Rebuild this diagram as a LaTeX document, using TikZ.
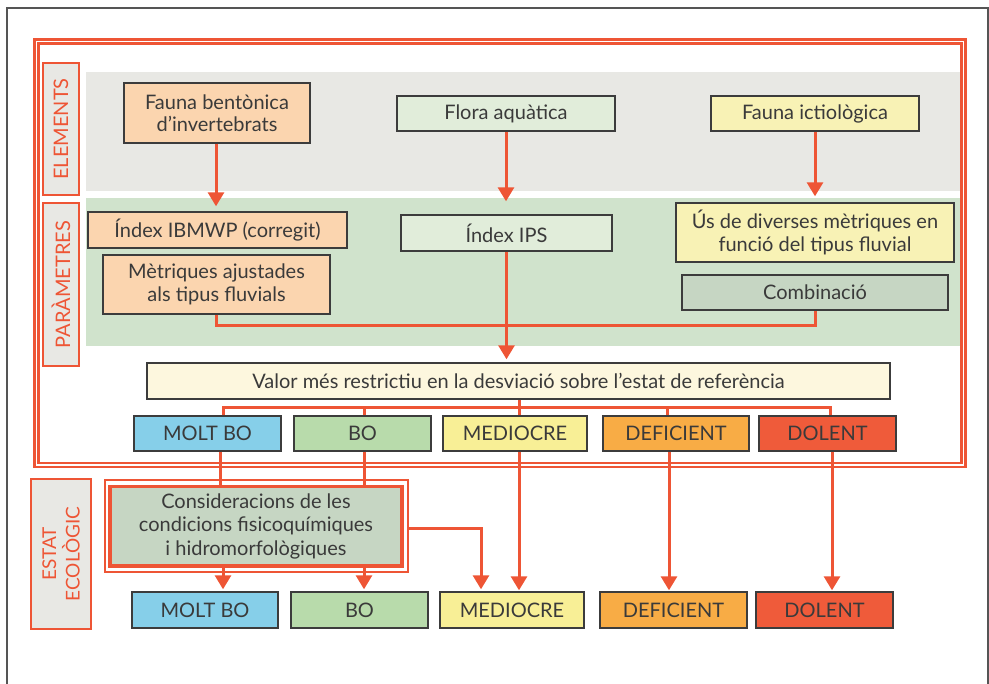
\documentclass[tikz,border=0pt]{standalone}
\usepackage{fontspec}
\setmainfont{Lato}
\usetikzlibrary{arrows.meta}
\definecolor{redc}{HTML}{EE5535}
\definecolor{graybg}{HTML}{E8E8E4}
\definecolor{greenbg}{HTML}{D0E3CC}
\definecolor{boxline}{HTML}{3C3C3C}
\definecolor{txt}{HTML}{3A3A3A}
\definecolor{cfauna}{HTML}{FBD5AF}
\definecolor{cflora}{HTML}{E1EDDA}
\definecolor{cictio}{HTML}{F8F2B5}
\definecolor{ccomb}{HTML}{C6D6C3}
\definecolor{cvalor}{HTML}{FDF7DE}
\definecolor{cmolt}{HTML}{86CFE9}
\definecolor{cbo}{HTML}{B8DBAB}
\definecolor{cmed}{HTML}{F8EF96}
\definecolor{cdef}{HTML}{F8AC45}
\definecolor{cdol}{HTML}{EF5B3A}
\definecolor{frame}{HTML}{555555}
\begin{document}
\begin{tikzpicture}[x=1pt,y=-1pt,
  box/.style={draw=boxline, line width=1.4pt, inner sep=0pt, text=txt, font=\fontsize{20}{22.5}\selectfont, align=center},
  lvl/.style={box, font=\fontsize{20}{22}\selectfont, minimum height=35pt},
  conn/.style={draw=redc, line width=3pt},
  arr/.style={conn, -{Triangle[width=16pt,length=14pt]}},
  side/.style={draw=redc, line width=1.4pt, fill=graybg, text=redc, font=\fontsize{20}{24}\selectfont, align=center, inner sep=0pt, rotate=90}]
\useasboundingbox (0,0) rectangle (989,684);
% outer gray frame
\draw[frame, line width=1.3pt] (7,684) -- (7,8) -- (988,8) -- (988,684);
% red double frame
\draw[redc, line width=2.7pt] (34.5,39.5) rectangle (965.5,467);
\draw[redc, line width=2.7pt] (38.5,43.5) rectangle (961.5,463);
% bands
\fill[graybg] (86,72) rectangle (960,191);
\fill[greenbg] (86,198) rectangle (960,346);
% side labels
\node[side, minimum width=132pt, minimum height=36pt] (selem) at (61,129) {ELEMENTS};
\node[side, minimum width=163pt, minimum height=36pt] (spar) at (61,284.5) {PARÀMETRES};
\node[side, minimum width=150pt, minimum height=60pt, font=\fontsize{19}{23.5}\selectfont] (sest) at (61,554) {ESTAT\\ECOLÒGIC};
% elements
\node[box, fill=cfauna, minimum width=186pt, minimum height=60pt] (fauna) at (217,113) {Fauna bentònica\\d’invertebrats};
\node[box, fill=cflora, minimum width=218pt, minimum height=35pt] (flora) at (506,113.5) {Flora aquàtica};
\node[box, fill=cictio, minimum width=208pt, minimum height=35pt] (ictio) at (815,113.5) {Fauna ictiològica};
% parameters
\node[box, fill=cfauna, minimum width=259pt, minimum height=36pt] (ibmwp) at (217.5,230) {Índex IBMWP (corregit)};
\node[box, fill=cfauna, minimum width=227pt, minimum height=59pt] (metr) at (216.5,284.5) {Mètriques ajustades\\als tipus fluvials};
\node[box, fill=cflora, minimum width=211pt, minimum height=36pt] (ips) at (506.5,233) {Índex IPS};
\node[box, fill=cictio, minimum width=278pt, minimum height=59pt] (us) at (815,232.5) {Ús de diverses mètriques en\\funció del tipus fluvial};
\node[box, fill=ccomb, minimum width=266pt, minimum height=35pt] (comb) at (815,292.5) {Combinació};
% valor
\node[box, fill=cvalor, minimum width=743pt, minimum height=36pt] (valor) at (518.5,381) {Valor més restrictiu en la desviació sobre l’estat de referència};
% level row 1
\node[lvl, fill=cmolt, minimum width=147pt] (molt1) at (207.5,433.5) {MOLT BO};
\node[lvl, fill=cbo, minimum width=137pt] (bo1) at (362.5,433.5) {BO};
\node[lvl, fill=cmed, minimum width=144pt] (med1) at (515,433.5) {MEDIOCRE};
\node[lvl, fill=cdef, minimum width=146pt] (def1) at (676,433.5) {DEFICIENT};
\node[lvl, fill=cdol, minimum width=137pt] (dol1) at (827.5,433.5) {DOLENT};
% consideracions
\node[box, draw=redc, line width=3.5pt, fill=ccomb, minimum width=292pt, minimum height=79.5pt, font=\fontsize{20}{23.3}\selectfont] (cons) at (256,526.25) {Consideracions de les\\condicions fisicoquímiques\\i hidromorfològiques};
\draw[redc, line width=2pt] ([shift={(-3.5pt,5pt)}]cons.north west) rectangle ([shift={(4.5pt,-4.75pt)}]cons.south east);
% level row 2
\node[lvl, fill=cmolt, minimum width=146pt, minimum height=36pt] (molt2) at (205,610) {MOLT BO};
\node[lvl, fill=cbo, minimum width=137pt, minimum height=36pt] (bo2) at (359.5,610) {BO};
\node[lvl, fill=cmed, minimum width=144pt, minimum height=36pt] (med2) at (512,610) {MEDIOCRE};
\node[lvl, fill=cdef, minimum width=147pt, minimum height=36pt] (def2) at (673.5,610) {DEFICIENT};
\node[lvl, fill=cdol, minimum width=137pt, minimum height=36pt] (dol2) at (824.5,610) {DOLENT};
% connectors: elements -> parameters
\draw[arr, shorten >=5pt] ([xshift=-1pt]fauna.south) -- ([xshift=-1pt]fauna.south |- ibmwp.north);
\draw[arr, shorten >=13pt] (flora.south) -- (flora.south |- ips.north);
\draw[arr, shorten >=6pt] (ictio.south) -- (ictio.south |- us.north);
% metriques - combinacio
\draw[conn] (metr.south) -- ++(0,11) -| (comb.south);
% ips -> valor
\draw[arr, shorten >=3pt] (ips.south) -- (ips.south |- valor.north);
% bus
\coordinate (bus) at (519,408);
\draw[conn] (valor.south -| bus) -- (bus);
\draw[conn] ([xshift=15.5pt]molt1.north) |- ([xshift=2.5pt]dol1.north |- bus) -- ([xshift=2.5pt]dol1.north);
\draw[conn] ([xshift=1.5pt]bo1.north |- bus) -- ([xshift=1.5pt]bo1.north);
\draw[conn] ([xshift=4pt]med1.north |- bus) -- ([xshift=4pt]med1.north);
\draw[conn] ([xshift=-9pt]def1.north |- bus) -- ([xshift=-9pt]def1.north);
% row1 -> cons / row2
\draw[conn] ([xshift=12.5pt]molt1.south) -- ([xshift=12.5pt]molt1.south |- cons.north);
\draw[conn] ([xshift=1.5pt]bo1.south) -- ([xshift=1.5pt]bo1.south |- cons.north);
\draw[arr, shorten >=1pt] ([xshift=4pt]med1.south) -- ([xshift=4pt]med1.south |- med2.north);
\draw[arr, shorten >=1pt] ([xshift=-7pt]def1.south) -- ([xshift=-7pt]def1.south |- def2.north);
\draw[arr, shorten >=1pt] ([xshift=4.5pt]dol1.south) -- ([xshift=4.5pt]dol1.south |- dol2.north);
% cons -> row2
\draw[arr, shorten >=2pt] ([xshift=18pt]molt2.north |- cons.south) -- ([xshift=18pt]molt2.north);
\draw[arr, shorten >=2pt] ([xshift=4.5pt]bo2.north |- cons.south) -- ([xshift=4.5pt]bo2.north);
\draw[arr, shorten >=2pt] ([yshift=-2pt]cons.east) ++(5pt,0) -| ([xshift=-31pt]med2.north);
\end{tikzpicture}
\end{document}
